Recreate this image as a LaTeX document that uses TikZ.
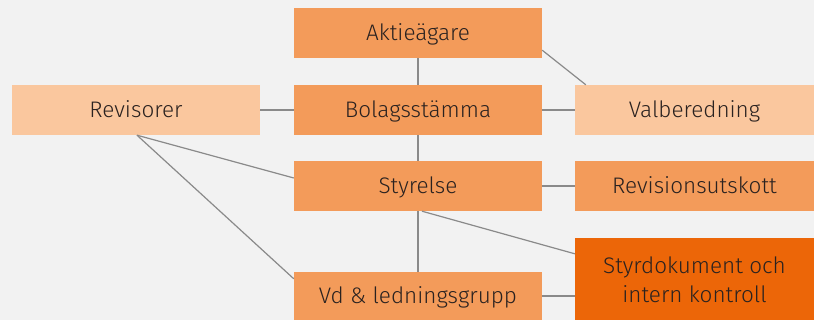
\documentclass[tikz,border=0pt]{standalone}
\usepackage{fontspec}
\setmainfont{Fira Sans}[UprightFont = * Light]
\definecolor{bg}{HTML}{F2F2F2}
\definecolor{midor}{HTML}{F39B5A}
\definecolor{lightor}{HTML}{FAC79E}
\definecolor{darkor}{HTML}{EC6608}
\definecolor{txt}{HTML}{2A2220}
\definecolor{ln}{HTML}{8A8A8A}
\begin{document}
\begin{tikzpicture}[x=1pt,y=-1pt,
  box/.style={inner sep=0pt, minimum width=248pt, minimum height=50pt, text=txt, font=\fontsize{22.5}{29}\selectfont, align=center, text height=15.6pt, text depth=0pt},
  mid/.style={box, fill=midor},
  light/.style={box, fill=lightor},
  rbox/.style={minimum width=239pt},
  conn/.style={draw=ln, line width=1.2pt}]
\fill[bg] (0,0) rectangle (814,320);
\useasboundingbox (0,0) rectangle (814,320);
\node[mid] (akt) at (418,33) {Aktieägare};
\node[mid] (bol) at (418,110) {Bolagsstämma};
\node[light] (rev) at (136,110) {Revisorer};
\node[light,rbox] (val) at (694.5,110) {Valberedning};
\node[mid] (sty) at (418,186) {Styrelse};
\node[mid,rbox] (ru) at (694.5,186) {Revisionsutskott};
\node[box,rbox,fill=darkor,minimum height=82pt,text height=48pt,text depth=0pt] (sd) at (694.5,279) {Styrdokument och\\intern kontroll};
\node[mid,minimum height=48pt] (vd) at (418,296) {Vd \& ledningsgrupp};
\draw[conn] (akt) -- (bol);
\draw[conn] (bol) -- (sty);
\draw[conn] (sty) -- (vd);
\draw[conn] (rev) -- (bol);
\draw[conn] (bol) -- (val);
\draw[conn] (sty) -- (ru);
\draw[conn] (vd.east) -- (vd.east -| sd.west);
\draw[conn] ([yshift=8pt]akt.south east) -- ([xshift=11pt]val.north west);
\draw[conn] ([xshift=1pt]rev.south) -- ([yshift=8pt]sty.west);
\draw[conn] ([xshift=1pt]rev.south) -- ([yshift=-7pt]vd.north west);
\draw[conn] ([xshift=4pt]sty.south) -- ([yshift=-16pt]sd.north west);
\end{tikzpicture}
\end{document}
